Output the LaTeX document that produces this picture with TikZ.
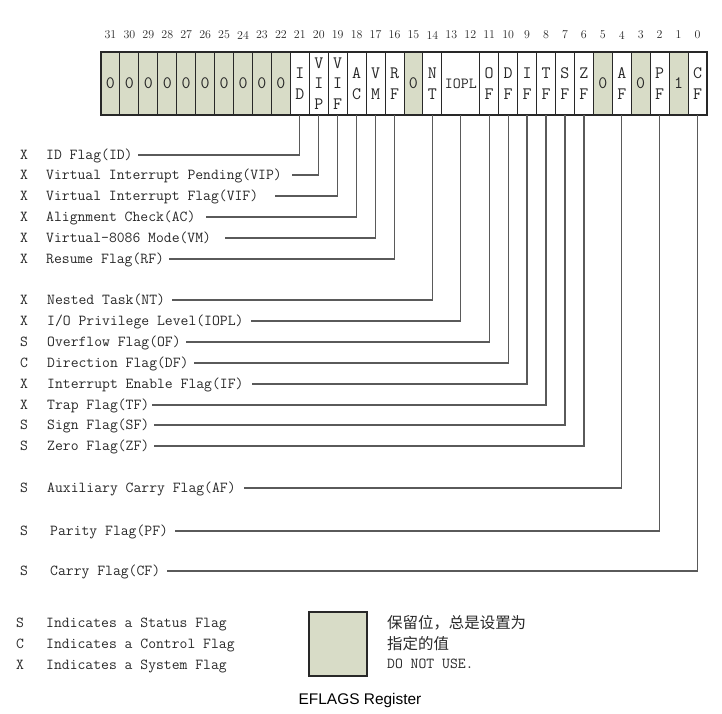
\documentclass[tikz,border=0pt]{standalone}
\usepackage{fontspec}
\newfontfamily\cjk{Noto Sans CJK SC}
\newfontfamily\sansf{Liberation Sans}
\definecolor{res}{RGB}{216,220,199}
\definecolor{ink}{RGB}{40,40,40}
\definecolor{wirec}{RGB}{90,90,90}
\begin{document}
\begin{tikzpicture}[x=1bp,y=-1bp,
  cell/.style={draw=ink, line width=1bp, minimum width=18.9375bp, minimum height=63bp,
    inner sep=0pt, outer sep=0pt, font=\fontsize{17.5}{20.5}\selectfont\ttfamily, text=ink, align=center},
  rescell/.style={cell, fill=res},
  bitno/.style={font=\fontsize{12}{14}\selectfont\rmfamily, text=ink, inner sep=0pt},
  kind/.style={font=\fontsize{15.3}{17}\selectfont\ttfamily, text=ink, inner sep=0pt},
  lab/.style={font=\fontsize{15.3}{17}\selectfont\ttfamily, text=ink, anchor=west,
    inner sep=0pt, text height=10bp, text depth=1bp},
  wire/.style={draw=wirec, line width=1.3bp}
]
\useasboundingbox (0,0) rectangle (722,714);
% register cells
\foreach \b/\t/\s in {31/0/rescell,30/0/rescell,29/0/rescell,28/0/rescell,27/0/rescell,
  26/0/rescell,25/0/rescell,24/0/rescell,23/0/rescell,22/0/rescell,
  21/{I\\D}/cell,20/{V\\I\\P}/cell,19/{V\\I\\F}/cell,18/{A\\C}/cell,17/{V\\M}/cell,
  16/{R\\F}/cell,15/0/rescell,14/{N\\T}/cell,11/{O\\F}/cell,10/{D\\F}/cell,
  9/{I\\F}/cell,8/{T\\F}/cell,7/{S\\F}/cell,6/{Z\\F}/cell,5/0/rescell,4/{A\\F}/cell,
  3/0/rescell,2/{P\\F}/cell,1/1/rescell,0/{C\\F}/cell}
  \node[\s] (b\b) at ({101+(31-\b+0.5)*18.9375},83.5) {\t};
\node[cell, minimum width=37.875bp, font=\fontsize{15.5}{18}\selectfont\ttfamily] (b13)
  at ({101+19*18.9375},83.5) {IOPL};
\draw[ink, line width=1.4bp] (b31.north west) rectangle (b0.south east);
% bit numbers
\foreach \b in {0,...,31}
  \node[bitno] (n\b) at ({101+(31-\b+0.5)*18.9375},35) {\b};
% flag labels and connectors
\foreach \k/\y/\lx/\c/\g/\txt in {
  X/155/46/b21/5/{ID Flag(ID)},
  X/175/46/b20/10/{Virtual Interrupt Pending(VIP)},
  X/196/46/b19/17/{Virtual Interrupt Flag(VIF)},
  X/217/46/b18/10/{Alignment Check(AC)},
  X/238/46/b17/14/{Virtual-8086 Mode(VM)},
  X/259/46/b16/5/{Resume Flag(RF)},
  X/300/47/b14/7/{Nested Task(NT)},
  X/321/47/b13/7/{I/O Privilege Level(IOPL)},
  S/342/47/b11/5/{Overflow Flag(OF)},
  C/363/47/b10/5/{Direction Flag(DF)},
  X/384/47/b9/8/{Interrupt Enable Flag(IF)},
  X/405/47/b8/3/{Trap Flag(TF)},
  S/425/47/b7/5/{Sign Flag(SF)},
  S/446/47/b6/5/{Zero Flag(ZF)},
  S/488/47/b4/8/{Auxiliary Carry Flag(AF)},
  S/531/50/b2/7/{Parity Flag(PF)},
  S/571/50/b0/7/{Carry Flag(CF)}}
{
  \node[kind] (k\c) at (24,\y) {\k};
  \node[lab] (l\c) at (\lx,\y) {\txt};
  \draw[wire] (\c.south) |- ([xshift=\g bp]l\c.east);
}
% legend
\node[kind] (ls) at (20,623) {S};
\node[lab] (lst) at (46,623) {Indicates a Status Flag};
\node[kind] (lc) at (20,644) {C};
\node[lab] (lct) at (46,644) {Indicates a Control Flag};
\node[kind] (lx) at (20,665) {X};
\node[lab] (lxt) at (46,665) {Indicates a System Flag};
\node[draw=ink, line width=1.6bp, fill=res, minimum width=58bp, minimum height=64bp,
  inner sep=0pt] (lgbox) at (338,644) {};
\node[anchor=west, font=\cjk\fontsize{15.5}{18}\selectfont, text=ink, inner sep=0pt]
  (c1) at (387,623) {保留位，总是设置为};
\node[anchor=west, font=\cjk\fontsize{15.5}{18}\selectfont, text=ink, inner sep=0pt]
  (c2) at (387,644) {指定的值};
\node[lab] (c3) at (387,664) {DO NOT USE.};
\node[font=\sansf\fontsize{15.5}{18}\selectfont, inner sep=0pt] (title) at (360,700) {EFLAGS Register};
\end{tikzpicture}
\end{document}
